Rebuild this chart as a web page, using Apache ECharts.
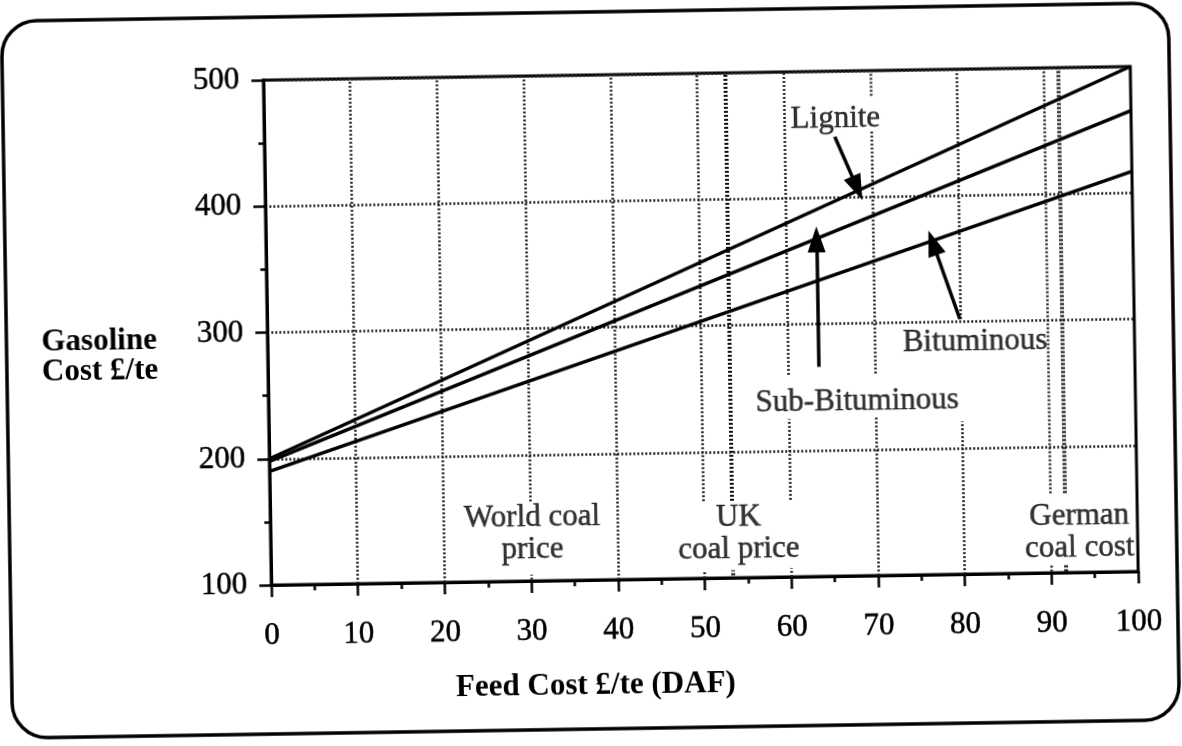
<!DOCTYPE html>
<html>
<head>
<meta charset="utf-8">
<title>Gasoline cost vs feed cost</title>
<script src="https://cdn.jsdelivr.net/npm/echarts@6/dist/echarts.min.js"></script>
<style>
  html, body { margin: 0; padding: 0; background: #fff; overflow: hidden; }
  #chart { width: 1182px; height: 746px; transform: rotate(-0.9deg); transform-origin: 50% 50%; }
</style>
</head>
<body>
<div id="chart"></div>
<script>
// Feed cost (£/te DAF) at the two ends of each straight cost line
const feedCost = [0, 100];
// Gasoline cost (£/te) for each coal type
const lignite = [200, 500];
const subBituminous = [198, 465];
const bituminous = [190, 417];

// Axis tick values
const xTicks = [0, 10, 20, 30, 40, 50, 60, 70, 80, 90, 100];
const yTicks = [100, 200, 300, 400, 500];

// Vertical reference lines (feed cost, from, to) - broken where labels sit
const refSegments = [
  [10, 100, 500], [20, 100, 500],
  [30, 163, 500], [30, 101, 105],
  [40, 100, 500],
  [50, 161, 500], [50, 100, 106],
  [60, 260, 500], [60, 161, 225], [60, 100, 107],
  [70, 480, 500], [70, 260, 452], [70, 100, 226],
  [80, 302, 500], [80, 100, 221],
  [90, 163, 500], [90, 101, 106]
];
// Coal price markers (drawn heavier)
const priceSegments = [
  [53.3, 161, 500], [53.3, 102, 106],
  [91.7, 163, 500], [91.7, 101, 106]
];

// Text annotations placed in data units
const annotations = [
  [65.9, 462, 'Lignite'],
  [67.9, 238, 'Sub-Bituminous'],
  [81.6, 284, 'Bituminous'],
  [30.2, 137, 'World coal\nprice'],
  [54.0, 135, 'UK\ncoal price'],
  [93.3, 132, 'German\ncoal cost']
];
// Pointer arrows: [fromX, fromY, toX, toY]
const arrows = [
  [65.8, 448, 68.3, 407],
  [63.5, 266, 63.5, 367],
  [79.9, 302, 76.9, 363]
];

const serif = '"Liberation Serif", "Times New Roman", "DejaVu Serif", serif';
// slight outline so the serif text reads as solid black
const ink = { color: '#000', textBorderColor: '#000', textBorderWidth: 0.5 };

const toPairs = (xs, ys) => xs.map((x, i) => [x, ys[i]]);
const segData = segs => segs.map(s => [{ coord: [s[0], s[1]] }, { coord: [s[0], s[2]] }]);

const chart = echarts.init(document.getElementById('chart'), null, { renderer: 'canvas' });

const lineSeries = (name, ys) => ({
  name, type: 'line', data: toPairs(feedCost, ys), symbol: 'none', z: 5,
  lineStyle: { color: '#000', width: 3.5 }, silent: true, animation: false
});

chart.setOption({
  animation: false,
  backgroundColor: 'transparent',
  grid: {
    left: 268, top: 75, width: 867, height: 505,
    show: true, borderColor: '#000', borderWidth: 3, backgroundColor: 'transparent'
  },
  xAxis: {
    type: 'value',
    min: xTicks[0], max: xTicks[xTicks.length - 1], interval: xTicks[1] - xTicks[0],
    axisLine: { onZero: false, lineStyle: { color: '#000', width: 3 } },
    axisTick: { length: 12, lineStyle: { color: '#000', width: 2.5 } },
    minorTick: { show: true, splitNumber: 2, length: 6, lineStyle: { color: '#000', width: 2.5 } },
    splitLine: { show: false },
    axisLabel: Object.assign({ fontSize: 31, fontFamily: serif, margin: 35 }, ink)
  },
  yAxis: {
    type: 'value',
    min: yTicks[0], max: yTicks[yTicks.length - 1], interval: yTicks[1] - yTicks[0],
    axisLine: { onZero: false, lineStyle: { color: '#000', width: 3 } },
    axisTick: { length: 12, lineStyle: { color: '#000', width: 2.5 } },
    minorTick: { show: true, splitNumber: 2, length: 6, lineStyle: { color: '#000', width: 2.5 } },
    splitLine: { show: true, lineStyle: { color: '#222', width: 2.5, type: [2, 2] } },
    axisLabel: Object.assign({ fontSize: 31, fontFamily: serif, margin: 24 }, ink)
  },
  graphic: [
    {
      type: 'rect', silent: true, z: -10,
      shape: { x: 7, y: 12, width: 1167, height: 717, r: 35 },
      style: { fill: 'none', stroke: '#000', lineWidth: 3.5 }
    },
    {
      type: 'text', left: 42, top: 318, silent: true,
      style: { text: 'Gasoline\nCost £/te', fontSize: 31, fontWeight: 'bold', fontFamily: serif, fill: '#000', lineHeight: 30 }
    },
    {
      type: 'text', left: 'center', top: 670, silent: true,
      style: { text: 'Feed Cost £/te (DAF)', fontSize: 31, fontWeight: 'bold', fontFamily: serif, fill: '#000' }
    }
  ],
  series: [
    {
      name: 'grid-refs', type: 'line', data: [], z: 1, silent: true,
      markLine: {
        silent: true, symbol: 'none', animation: false,
        label: { show: false },
        lineStyle: { color: '#222', width: 2.5, type: [2, 2] },
        data: segData(refSegments)
      }
    },
    {
      name: 'price-refs', type: 'line', data: [], z: 1, silent: true,
      markLine: {
        silent: true, symbol: 'none', animation: false,
        label: { show: false },
        lineStyle: { color: '#111', width: 4, type: [2, 2] },
        data: segData(priceSegments)
      }
    },
    lineSeries('Lignite', lignite),
    lineSeries('Sub-Bituminous', subBituminous),
    lineSeries('Bituminous', bituminous),
    {
      name: 'arrows', type: 'line', data: [], z: 6, silent: true,
      markLine: {
        silent: true, animation: false,
        symbol: ['none', 'triangle'], symbolSize: [18, 26],
        label: { show: false },
        lineStyle: { color: '#000', width: 3.5, type: 'solid' },
        data: arrows.map(a => [{ coord: [a[0], a[1]] }, { coord: [a[2], a[3]] }])
      }
    },
    {
      name: 'labels', type: 'scatter', z: 7, silent: true,
      symbolSize: 0,
      data: annotations.map(a => ({ value: [a[0], a[1]], name: a[2] })),
      label: Object.assign({
        show: true, position: 'inside', formatter: p => p.name,
        fontSize: 31, fontFamily: serif, lineHeight: 32,
        align: 'center', verticalAlign: 'middle'
      }, ink)
    }
  ]
});
</script>
</body>
</html>
